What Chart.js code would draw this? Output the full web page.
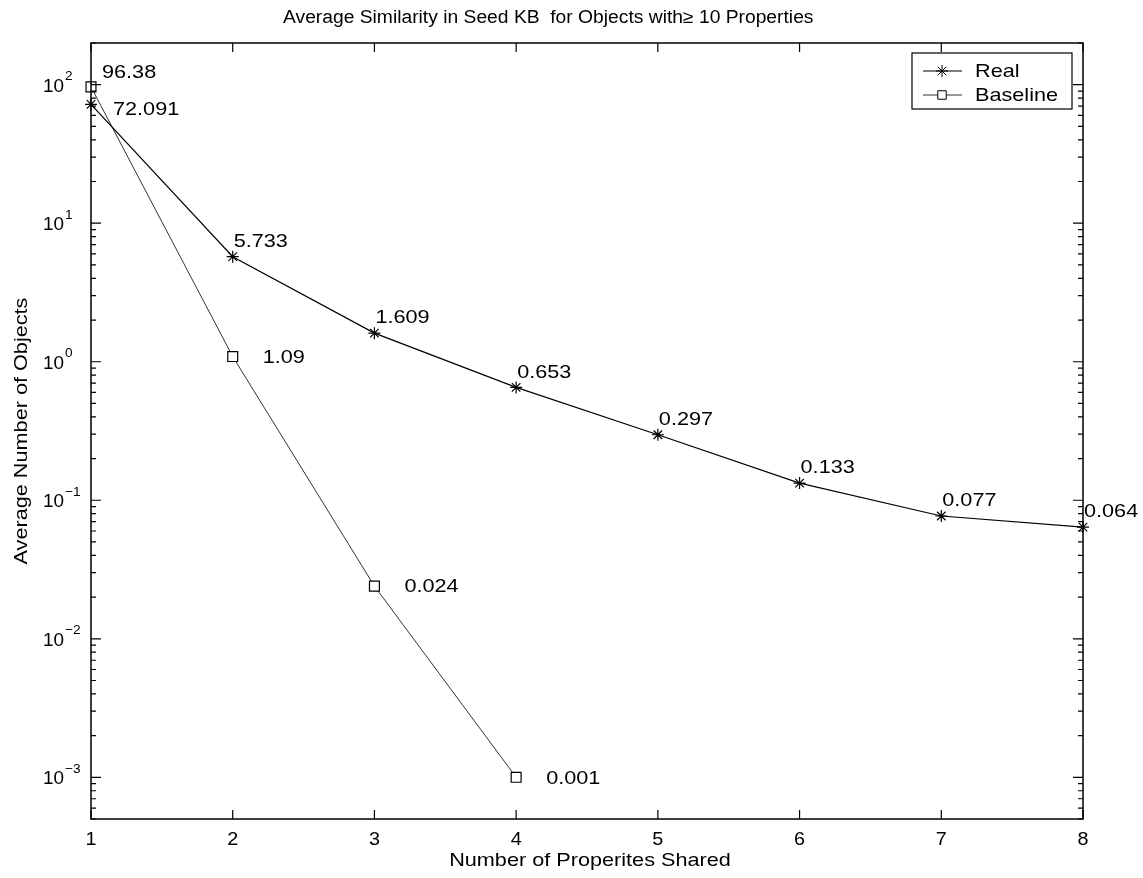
<!DOCTYPE html>
<html>
<head>
<meta charset="utf-8">
<script src="https://cdn.jsdelivr.net/npm/chart.js@4"></script>
<style>
  html, body { margin: 0; padding: 0; background: #fff; }
  canvas { display: block; }
</style>
</head>
<body>
<canvas id="chart" width="1143" height="878"></canvas>
<script>
// data
var sharedCounts = [1, 2, 3, 4, 5, 6, 7, 8];
var realValues = [72.091, 5.733, 1.609, 0.653, 0.297, 0.133, 0.077, 0.064];
var baselineCounts = [1, 2, 3, 4];
var baselineValues = [96.38, 1.09, 0.024, 0.001];
var xTicks = [1, 2, 3, 4, 5, 6, 7, 8];
var yTickExponents = [2, 1, 0, -1, -2, -3];

var FONT = '"Liberation Sans", Arial, Helvetica, sans-serif';

function toPoints(xs, ys) {
    return xs.map(function (x, i) { return { x: x, y: ys[i] }; });
}

// the scanned helvetica is a bit wider than arial, so stretch it a little
function wideText(ctx, text, x, y, size, sx, align, angle) {
    ctx.save();
    ctx.font = size + 'px ' + FONT;
    ctx.textAlign = align || 'left';
    ctx.textBaseline = 'middle';
    ctx.translate(x, y);
    if (angle) ctx.rotate(angle);
    ctx.scale(sx, 1);
    ctx.fillText(text, 0, 0);
    ctx.restore();
}

// draws the matlab style box, inward ticks, labels, legend and value texts
var matlabAxes = {
    id: 'matlabAxes',
    afterDraw: function (chart) {
        var ctx = chart.ctx;
        var area = chart.chartArea;
        var xs = chart.scales.x;
        var ys = chart.scales.y;

        ctx.save();
        ctx.strokeStyle = '#000';
        ctx.fillStyle = '#000';

        // frame
        ctx.lineWidth = 1.5;
        ctx.strokeRect(area.left, area.top, area.right - area.left, area.bottom - area.top);

        // x ticks
        ctx.lineWidth = 1.2;
        xTicks.forEach(function (t) {
            var px = xs.getPixelForValue(t);
            ctx.beginPath();
            ctx.moveTo(px, area.bottom); ctx.lineTo(px, area.bottom - 9);
            ctx.moveTo(px, area.top); ctx.lineTo(px, area.top + 9);
            ctx.stroke();
            wideText(ctx, String(t), px, 840, 18, 1.1, 'center');
        });

        // y ticks, major and minor
        for (var e = -4; e <= 2; e++) {
            for (var m = 1; m <= 9; m++) {
                var v = m * Math.pow(10, e);
                if (v < ys.min || v > ys.max) continue;
                var py = ys.getPixelForValue(v);
                var len = m === 1 ? 10 : 5;
                ctx.beginPath();
                ctx.moveTo(area.left, py); ctx.lineTo(area.left + len, py);
                ctx.moveTo(area.right, py); ctx.lineTo(area.right - len, py);
                ctx.stroke();
            }
        }
        yTickExponents.forEach(function (p) {
            var py = ys.getPixelForValue(Math.pow(10, p));
            var sup = String(p).replace('-', '\u2212');
            wideText(ctx, '10', 64, py + 2, 18, 1.05, 'right');
            wideText(ctx, sup, 65, py - 8, 13, 1.05, 'left');
        });

        // titles
        wideText(ctx, 'Average Similarity in Seed KB  for Objects with\u2265 10 Properties', 283, 18, 18, 1.07, 'left');
        wideText(ctx, 'Number of Properites Shared', (area.left + area.right) / 2 + 3, 861, 19, 1.14, 'center');
        wideText(ctx, 'Average Number of Objects', 22, (area.top + area.bottom) / 2, 19, 1.14, 'center', -Math.PI / 2);

        // value texts next to the points
        var realMeta = chart.getDatasetMeta(0).data;
        realValues.forEach(function (v, i) {
            var pt = realMeta[i];
            var dx = i === 0 ? 22 : 1;
            var dy = i === 0 ? 5 : -15;
            wideText(ctx, String(v), pt.x + dx, pt.y + dy, 19, 1.14, 'left');
        });
        var baseMeta = chart.getDatasetMeta(1).data;
        baselineValues.forEach(function (v, i) {
            var pt = baseMeta[i];
            var dx = i === 0 ? 11 : 30;
            var dy = i === 0 ? -14 : 1;
            wideText(ctx, String(v), pt.x + dx, pt.y + dy, 19, 1.14, 'left');
        });

        // legend
        var lx = 912, ly = 53, lw = 160, lh = 56;
        ctx.fillStyle = '#fff';
        ctx.fillRect(lx, ly, lw, lh);
        ctx.lineWidth = 1.2;
        ctx.strokeStyle = '#000';
        ctx.strokeRect(lx, ly, lw, lh);
        chart.data.datasets.forEach(function (ds, i) {
            var rowY = 71 + i * 24;
            ctx.strokeStyle = ds.borderColor;
            ctx.lineWidth = ds.borderWidth;
            ctx.beginPath();
            ctx.moveTo(923, rowY); ctx.lineTo(962, rowY);
            ctx.stroke();
            ctx.strokeStyle = '#000';
            ctx.lineWidth = 1;
            ctx.fillStyle = '#fff';
            Chart.helpers.drawPoint(ctx, {
                pointStyle: ds.pointStyle,
                radius: ds.legendRadius,
                borderWidth: 1
            }, 942, rowY);
            ctx.fillStyle = '#000';
            wideText(ctx, ds.label, 975, rowY + 1, 19, 1.14, 'left');
        });

        ctx.restore();
    }
};

var chart = new Chart(document.getElementById('chart').getContext('2d'), {
    type: 'line',
    data: {
        datasets: [{
            label: 'Real',
            data: toPoints(sharedCounts, realValues),
            borderColor: '#000',
            borderWidth: 1.2,
            pointStyle: 'star',
            pointRadius: 6,
            legendRadius: 6,
            pointBorderColor: '#000',
            pointBorderWidth: 1.2,
            pointBackgroundColor: '#fff',
            tension: 0,
            fill: false,
            clip: false
        }, {
            label: 'Baseline',
            data: toPoints(baselineCounts, baselineValues),
            borderColor: '#333',
            borderWidth: 1,
            pointStyle: 'rect',
            pointRadius: 7,
            legendRadius: 6,
            pointBorderColor: '#000',
            pointBorderWidth: 1.2,
            pointBackgroundColor: '#fff',
            tension: 0,
            fill: false,
            clip: false
        }]
    },
    options: {
        responsive: false,
        animation: false,
        devicePixelRatio: 1,
        layout: { padding: { left: 91, right: 60, top: 43, bottom: 59 } },
        plugins: {
            legend: { display: false },
            title: { display: false },
            tooltip: { enabled: false }
        },
        scales: {
            x: { type: 'linear', min: 1, max: 8, display: false },
            y: { type: 'logarithmic', min: 0.0005, max: 200, display: false }
        }
    },
    plugins: [matlabAxes]
});
</script>
</body>
</html>
